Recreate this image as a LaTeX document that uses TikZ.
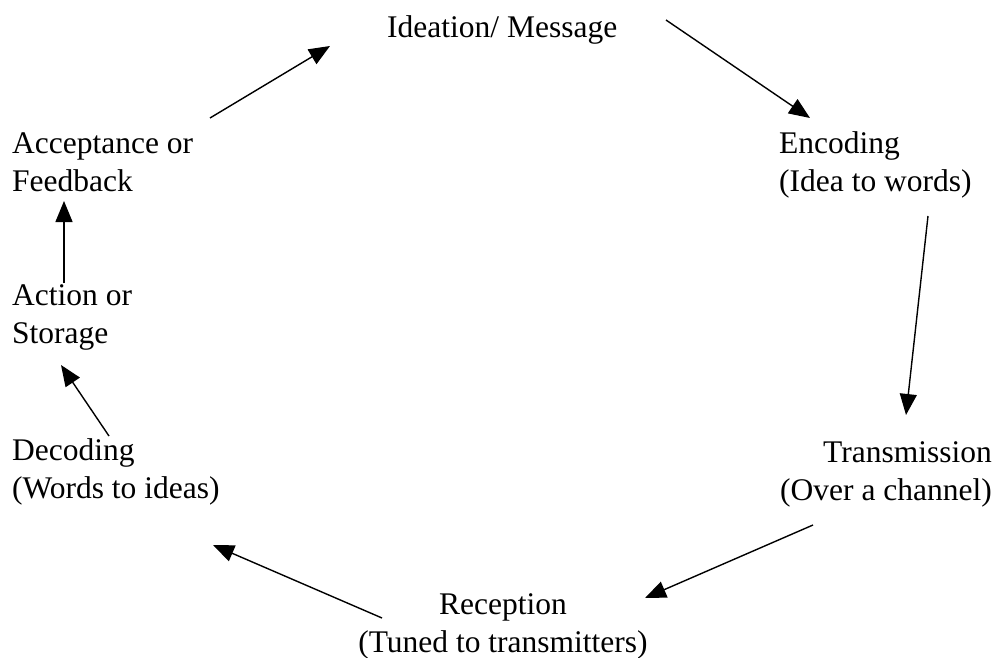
\documentclass[tikz,border=0pt]{standalone}
\usepackage{fontspec}
\setmainfont{Liberation Serif}
\usetikzlibrary{arrows.meta}
\begin{document}
\begin{tikzpicture}[x=1pt,y=-1pt,
  lbl/.style={inner sep=0pt, font=\fontsize{31.5}{38}\selectfont},
  arr/.style={line width=1.4pt, -{Triangle[length=21pt,width=17pt]}}]
\useasboundingbox (0,0) rectangle (994,658);
\node[lbl, anchor=base west] (idea) at (387,38) {Ideation/ Message};
\node[lbl, anchor=base west, align=left] (enc) at (779,192) {Encoding\\(Idea to words)};
\node[lbl, anchor=base east, align=right] (trans) at (992,500) {Transmission\\(Over a channel)};
\node[lbl, anchor=base, align=center] (recep) at (503,652) {Reception\\(Tuned to transmitters)};
\node[lbl, anchor=base west, align=left] (dec) at (12,498) {Decoding\\(Words to ideas)};
\node[lbl, anchor=base west, align=left] (act) at (12,343) {Action or\\Storage};
\node[lbl, anchor=base west, align=left] (acc) at (12,192) {Acceptance or\\Feedback};
\draw[arr] ([shift={(198,-74)}]acc.base west) -- ([shift={(-57,8)}]idea.base west);
\draw[arr] ([shift={(279,-18)}]idea.base west) -- ([shift={(31,-74)}]enc.base west);
\draw[arr] ([shift={(149,24)}]enc.base west) -- ([shift={(-86,-85)}]trans.base east);
\draw[arr] ([shift={(-179,25)}]trans.base east) -- ([shift={(142,-54)}]recep.base);
\draw[arr] ([shift={(-121,-34)}]recep.base) -- ([shift={(201,47)}]dec.base west);
\draw[arr] ([shift={(97,-62)}]dec.base west) -- ([shift={(49,22)}]act.base west);
\draw[arr] ([shift={(52,-60)}]act.base west) -- ([shift={(52,9)}]acc.base west);
\end{tikzpicture}
\end{document}
